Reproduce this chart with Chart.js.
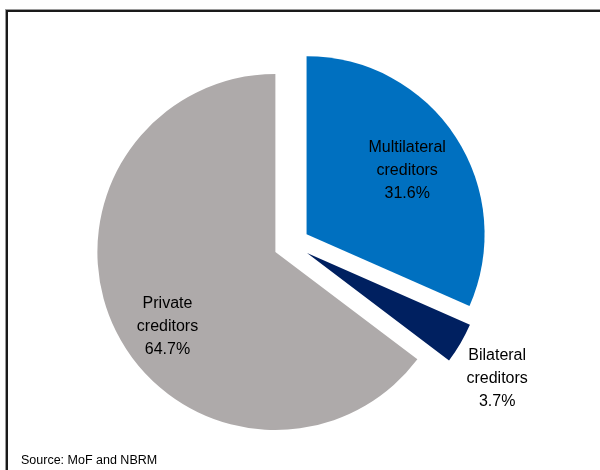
<!DOCTYPE html>
<html>
<head>
<meta charset="utf-8">
<script src="https://cdn.jsdelivr.net/npm/chart.js@4/dist/chart.umd.min.js"></script>
<style>
  html, body { margin: 0; padding: 0; background: #fff; width: 600px; height: 470px; overflow: hidden; }
  #frame {
    position: absolute; left: 6px; top: 10px; width: 700px; height: 600px;
    border: 2px solid #1a1a1a; box-shadow: -1px -1px 0 #9a9a9a;
  }
  #wrap { position: absolute; left: 0; top: 0; width: 600px; height: 470px; }
  #source {
    position: absolute; left: 21px; top: 453px;
    font: 12.5px "Liberation Sans", Arial, sans-serif; color: #000; white-space: nowrap;
  }
</style>
</head>
<body>
<div id="frame"></div>
<div id="wrap"><canvas id="c" width="600" height="470"></canvas></div>
<div id="source">Source: MoF and NBRM</div>
<script>
// Structure of public debt by creditor, %
const categories = ["Multilateral creditors", "Bilateral creditors", "Private creditors"];
const shares = [31.6, 3.7, 64.7];
const sliceColors = ["#0070C0", "#002060", "#AEAAAA"];

// Pulls every slice outward by the same distance, keeping its radius unchanged
const explode = {
  id: "explode",
  beforeDatasetDraw(chart, args, opts) {
    const ctx = chart.ctx;
    args.meta.data.forEach(arc => {
      const half = (arc.startAngle + arc.endAngle) / 2;
      ctx.save();
      ctx.translate(Math.cos(half) * opts.distance, Math.sin(half) * opts.distance);
      arc.draw(ctx, chart.chartArea);
      ctx.restore();
    });
    return false;
  }
};

// Writes "name / value%" inside or beside each slice
const sliceLabels = {
  id: "sliceLabels",
  afterDatasetsDraw(chart, args, opts) {
    const ctx = chart.ctx;
    const meta = chart.getDatasetMeta(0);
    const ds = chart.data.datasets[0];
    const shift = chart.options.plugins.explode.distance;
    ctx.save();
    ctx.font = opts.font;
    ctx.fillStyle = opts.color;
    ctx.textAlign = "center";
    ctx.textBaseline = "middle";
    meta.data.forEach((arc, i) => {
      const p = arc.getProps(["x", "y", "startAngle", "endAngle", "outerRadius"], true);
      const place = opts.place[i];
      const mid = (p.startAngle + p.endAngle) / 2 + place.turn * Math.PI / 180;
      const dist = shift + place.radius * p.outerRadius;
      const cx = p.x + Math.cos(mid) * dist;
      const cy = p.y + Math.sin(mid) * dist;
      const words = chart.data.labels[i].split(" ");
      const lines = [words[0], words.slice(1).join(" "), ds.data[i].toFixed(1) + "%"];
      const lh = opts.lineHeight;
      lines.forEach((t, k) => ctx.fillText(t, cx, cy + (k - 1) * lh));
    });
    ctx.restore();
  }
};

new Chart(document.getElementById("c"), {
  type: "pie",
  data: {
    labels: categories,
    datasets: [{
      data: shares,
      backgroundColor: sliceColors,
      borderWidth: 0,
      hoverOffset: 0
    }]
  },
  options: {
    responsive: false,
    animation: false,
    events: [],
    layout: { padding: { top: 66, bottom: 48, left: 0, right: 17 } },
    plugins: {
      legend: { display: false },
      tooltip: { enabled: false },
      explode: { distance: 18 },
      sliceLabels: {
        font: '16px "Liberation Sans", Arial, sans-serif',
        color: "#000",
        lineHeight: 23,
        place: [
          { radius: 0.668, turn: 0.8 },
          { radius: 1.28, turn: 2.8 },
          { radius: 0.735, turn: -7.1 }
        ]
      }
    }
  },
  plugins: [explode, sliceLabels]
});
</script>
</body>
</html>
